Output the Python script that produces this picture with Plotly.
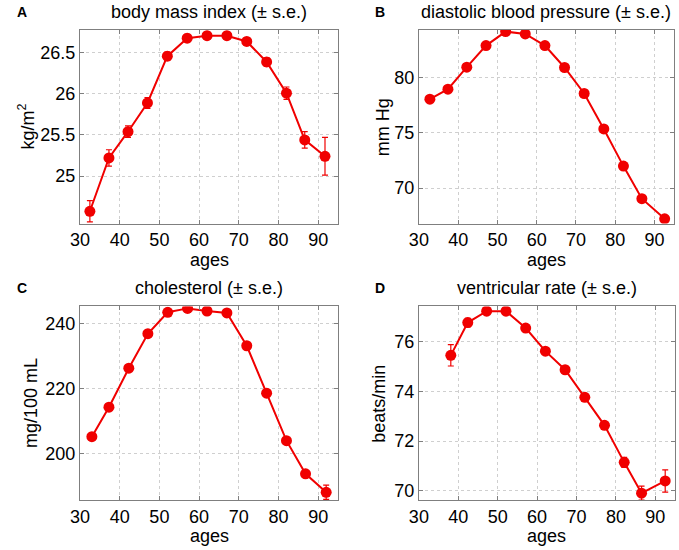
import plotly.graph_objects as go

# ---- data ----
ages_bmi = [32.5, 37.3, 42.1, 47.0, 52.0, 57.0, 62.0, 67.0, 72.0, 77.0, 82.0, 86.6, 91.7]
bmi = [24.57, 25.22, 25.54, 25.89, 26.46, 26.68, 26.71, 26.71, 26.64, 26.39, 26.01, 25.44, 25.24]
bmi_se = [0.13, 0.10, 0.07, 0.065, 0.05, 0.045, 0.045, 0.045, 0.045, 0.05, 0.075, 0.10, 0.23]

ages_dbp = [32.8, 37.4, 42.2, 47.1, 52.1, 57.1, 62.1, 67.1, 72.1, 77.1, 82.1, 86.8, 92.6]
dbp = [78.07, 78.97, 80.97, 82.93, 84.2, 83.99, 82.93, 80.94, 78.58, 75.36, 71.99, 69.03, 67.2]
dbp_se = [0.12, 0.1, 0.08, 0.08, 0.08, 0.08, 0.08, 0.08, 0.09, 0.1, 0.12, 0.15, 0.25]

ages_chol = [33.0, 37.3, 42.3, 47.1, 52.1, 57.1, 62.0, 67.0, 72.0, 77.0, 82.0, 86.8, 92.0]
chol = [205.1, 214.2, 226.2, 236.8, 243.4, 244.6, 243.8, 243.2, 233.1, 218.5, 203.9, 193.7, 188.0]
chol_se = [0.6, 0.5, 0.4, 0.4, 0.4, 0.4, 0.4, 0.4, 0.4, 0.5, 0.6, 0.9, 2.2]

ages_vr = [38.1, 42.4, 47.2, 52.1, 57.1, 62.1, 67.1, 72.1, 77.1, 82.1, 86.5, 92.5]
vr = [75.45, 76.77, 77.23, 77.23, 76.55, 75.62, 74.87, 73.76, 72.63, 71.14, 69.9, 70.39]
vr_se = [0.43, 0.17, 0.1, 0.1, 0.1, 0.1, 0.1, 0.1, 0.12, 0.2, 0.28, 0.45]

titles = ["body mass index (\u00b1 s.e.)", "diastolic blood pressure (\u00b1 s.e.)",
          "cholesterol (\u00b1 s.e.)", "ventricular rate (\u00b1 s.e.)"]
ylabels = ["kg/m<sup>2</sup>", "mm Hg", "mg/100 mL", "beats/min"]
panel_letters = ["A", "B", "C", "D"]
xticks = [30, 40, 50, 60, 70, 80, 90]
yticks = [[25, 25.5, 26, 26.5], [70, 75, 80], [200, 220, 240], [70, 72, 74, 76]]
yticktext = [["25", "25.5", "26", "26.5"], ["70", "75", "80"], ["200", "220", "240"], ["70", "72", "74", "76"]]
yranges = [[24.42, 26.78], [66.77, 84.35], [185.6, 245.2], [69.62, 77.42]]

W, H = 679, 550
RED = "#f00000"
FONT = "Liberation Sans, Arial, sans-serif"

series = [(ages_bmi, bmi, bmi_se), (ages_dbp, dbp, dbp_se), (ages_chol, chol, chol_se), (ages_vr, vr, vr_se)]

# plot boxes in pixels: (left, right, top, bottom)
boxes = [(71, 333, 30, 224), (415, 674, 30, 224), (71, 333, 307, 501), (415, 675, 307, 501)]

fig = go.Figure()
layout = dict(width=W, height=H, margin=dict(l=0, r=0, t=0, b=0),
              paper_bgcolor="white", plot_bgcolor="white", showlegend=False,
              font=dict(family=FONT, size=18, color="black"))
annotations = []
for i, ((x, y, e), (l, r, t, b)) in enumerate(zip(series, boxes)):
    sfx = "" if i == 0 else str(i + 1)
    fig.add_trace(go.Scatter(
        x=x, y=y, mode="lines+markers",
        line=dict(color=RED, width=2),
        marker=dict(color=RED, size=11),
        error_y=dict(type="data", array=e, visible=True, color=RED, thickness=1.2, width=3),
        xaxis="x" + sfx, yaxis="y" + sfx))
    common = dict(showline=True, linecolor="#7f7f7f", linewidth=1, mirror="ticks",
                  ticks="inside", ticklen=4, tickcolor="#7f7f7f",
                  showgrid=True, gridcolor="#cfcfcf", griddash="dot", gridwidth=1,
                  zeroline=False, tickfont=dict(family=FONT, size=18, color="black"))
    layout["xaxis" + sfx] = dict(domain=[l / W, r / W], range=[30, 95], anchor="y" + sfx,
                                 tickvals=xticks, **common)
    layout["yaxis" + sfx] = dict(domain=[1 - b / H, 1 - t / H], range=yranges[i], anchor="x" + sfx,
                                 tickvals=yticks[i], ticktext=yticktext[i], **common)
    cx = (l + r) / 2
    annotations.append(dict(text=titles[i], x=cx / W, y=1 - (t - 18) / H, xref="paper", yref="paper",
                            xanchor="center", yanchor="middle", showarrow=False,
                            font=dict(family=FONT, size=18, color="black")))
    annotations.append(dict(text="ages", x=cx / W, y=1 - (b + 36) / H, xref="paper", yref="paper",
                            xanchor="center", yanchor="middle", showarrow=False,
                            font=dict(family=FONT, size=18, color="black")))
    ylx = [17, 378, 22, 375][i]
    annotations.append(dict(text=ylabels[i], x=ylx / W, y=1 - ((t + b) / 2) / H, xref="paper", yref="paper",
                            xanchor="center", yanchor="middle", showarrow=False, textangle=-90,
                            font=dict(family=FONT, size=18, color="black")))
    plx = [12, 376, 12, 376][i]
    annotations.append(dict(text="<b>" + panel_letters[i] + "</b>", x=plx / W, y=1 - (t - 18) / H,
                            xref="paper", yref="paper", xanchor="center", yanchor="middle",
                            showarrow=False, font=dict(family=FONT, size=14, color="black")))
layout["annotations"] = annotations
fig.update_layout(**layout)
fig.write_html("out.html", config={"displayModeBar": False},
               post_script="document.body.style.margin='0';document.body.style.padding='0';document.body.style.overflow='hidden';")
